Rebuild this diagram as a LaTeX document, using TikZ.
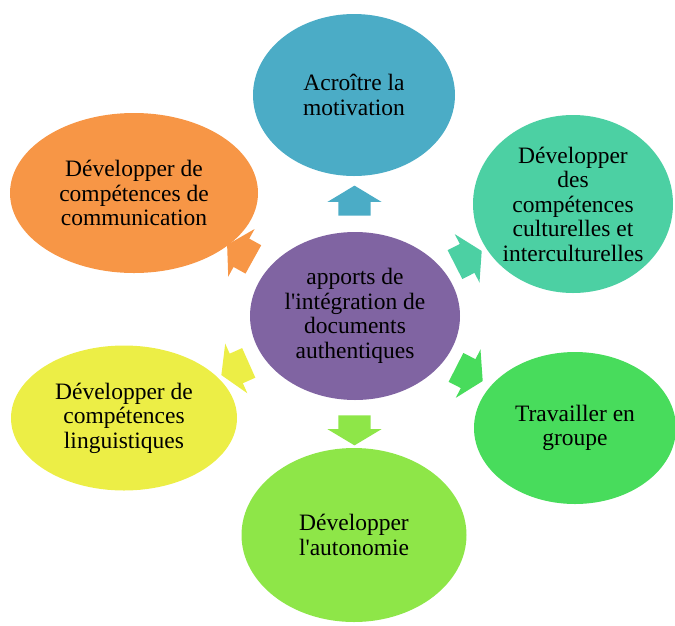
\documentclass[tikz,border=0pt]{standalone}
\usepackage{fontspec}
\setmainfont{Liberation Serif}
\usetikzlibrary{shapes.geometric, shapes.arrows, calc}
\definecolor{coreviolet}{RGB}{128, 100, 162}
\definecolor{motivblue}{RGB}{75, 172, 198}
\definecolor{cultteal}{RGB}{76, 208, 163}
\definecolor{groupgreen}{RGB}{72, 220, 92}
\definecolor{autolime}{RGB}{142, 230, 72}
\definecolor{linguyellow}{RGB}{236, 238, 70}
\definecolor{commorange}{RGB}{247, 150, 70}

\begin{document}
\begin{tikzpicture}[
  x=1pt, y=-1pt,
  every node/.style={font=\fontsize{23.5}{24.5}\selectfont},
  bubble/.style={
    ellipse, inner sep=0pt,
    align=center, text=black,
  },
  blockarrow/.style={
    single arrow, inner xsep=0pt, inner ysep=16pt,
    minimum height=30pt,
    single arrow head extend=11pt,
    single arrow tip angle=118,
  },
]
  \useasboundingbox (0,0) rectangle (675,625);

  % centre
  \node[bubble, fill=coreviolet, minimum width=210pt, minimum height=168pt]
    (core) at (355,316) {apports de\\l\textquotesingle intégration de\\documents\\authentiques};

  % outer ring
  \node[bubble, fill=motivblue, minimum width=202pt, minimum height=162pt]
    (motiv) at (354,95) {Acroître la\\motivation};
  \node[bubble, fill=cultteal, minimum width=200pt, minimum height=178pt]
    (cult) at (573,204) {Développer\\des\\compétences\\culturelles et\\interculturelles};
  \node[bubble, fill=groupgreen, minimum width=202pt, minimum height=152pt]
    (group) at (575,428) {Travailler en\\groupe};
  \node[bubble, fill=autolime, minimum width=225pt, minimum height=174pt]
    (auto) at (354,535) {Développer\\l\textquotesingle autonomie};
  \node[bubble, fill=linguyellow, minimum width=226pt, minimum height=145pt]
    (lingu) at (124,418) {Développer de\\compétences\\linguistiques};
  \node[bubble, fill=commorange, minimum width=248pt, minimum height=160pt]
    (comm) at (134,193) {Développer de\\compétences de\\communication};

  % arrows going out
  \foreach \n/\a/\col in {motiv/90/motivblue, cult/27/cultteal, group/-27/groupgreen,
                          auto/-90/autolime, lingu/204/linguyellow, comm/151/commorange}
    \node[blockarrow, fill=\col, rotate=\a] (arr-\n) at ($(core)!0.5!(\n)$) {};
\end{tikzpicture}
\end{document}
